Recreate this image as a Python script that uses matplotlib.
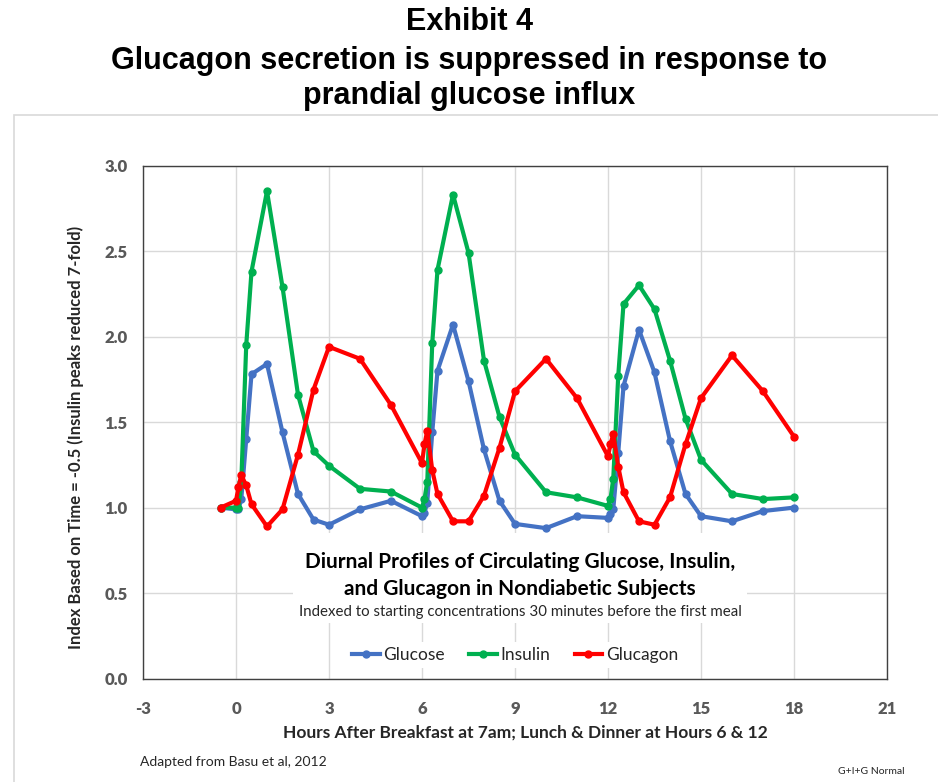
import matplotlib
matplotlib.use("Agg")
import matplotlib.pyplot as plt
from matplotlib import font_manager
from matplotlib.patches import Rectangle

# 数据：时间(小时)与三条指数曲线
hours = [-0.5, 0, 0.08, 0.17, 0.33, 0.5, 1, 1.5, 2, 2.5, 3, 4, 5,
         6, 6.08, 6.17, 6.33, 6.5, 7, 7.5, 8, 8.5, 9, 10, 11,
         12, 12.08, 12.17, 12.33, 12.5, 13, 13.5, 14, 14.5, 15, 16, 17, 18]

glucose = [1.0, 0.99, 0.99, 1.05, 1.40, 1.78, 1.84, 1.44, 1.08, 0.93, 0.90, 0.99, 1.04,
           0.95, 0.97, 1.03, 1.44, 1.80, 2.07, 1.74, 1.34, 1.04, 0.905, 0.88, 0.95,
           0.94, 0.96, 0.99, 1.32, 1.71, 2.04, 1.79, 1.39, 1.08, 0.95, 0.92, 0.98, 1.00]

insulin = [1.0, 1.0, 1.0, 1.15, 1.95, 2.38, 2.85, 2.29, 1.66, 1.33, 1.245, 1.11, 1.094,
           1.0, 1.05, 1.15, 1.96, 2.39, 2.83, 2.49, 1.86, 1.53, 1.31, 1.09, 1.06,
           1.01, 1.05, 1.17, 1.77, 2.19, 2.30, 2.16, 1.86, 1.52, 1.28, 1.08, 1.05, 1.06]

glucagon = [1.0, 1.04, 1.12, 1.19, 1.13, 1.02, 0.89, 0.99, 1.31, 1.69, 1.94, 1.87, 1.60,
            1.26, 1.37, 1.45, 1.22, 1.08, 0.92, 0.92, 1.07, 1.35, 1.68, 1.87, 1.64,
            1.30, 1.37, 1.43, 1.24, 1.09, 0.92, 0.90, 1.06, 1.37, 1.64, 1.89, 1.68, 1.415]

x_ticks = [-3, 0, 3, 6, 9, 12, 15, 18, 21]
y_ticks = [0.0, 0.5, 1.0, 1.5, 2.0, 2.5, 3.0]


def pick_font(names):
    """返回第一个可用字体"""
    for name in names:
        try:
            font_manager.findfont(name, fallback_to_default=False)
            return name
        except Exception:
            continue
    return 'DejaVu Sans'


plt.rcParams['axes.unicode_minus'] = False
title_font = pick_font(['Liberation Sans Narrow', 'Liberation Sans'])
body_font = pick_font(['Lato', 'Open Sans', 'DejaVu Sans'])

W, H = 938, 782
fig = plt.figure(figsize=(W / 100, H / 100), dpi=100)
fig.patch.set_facecolor('white')

# 外框（浅灰）
fig.patches.append(Rectangle((14 / W, -0.1), 1.2, (H - 115) / H + 0.1,
                             transform=fig.transFigure, facecolor='none',
                             edgecolor='#d9d9d9', linewidth=1.2))

# 标题
title_size = 24 if title_font == 'Liberation Sans Narrow' else 22
for text, ypx in [("Exhibit 4", 22),
                  ("Glucagon secretion is suppressed in response to", 61),
                  ("prandial glucose influx", 96)]:
    fig.text(0.5, 1 - ypx / H, text, ha='center', va='center',
             fontsize=title_size, fontweight='bold', family=title_font)

# 绘图区
ax_l, ax_r, ax_t, ax_b = 143, 887, 165.5, 678.7
ax = fig.add_axes([ax_l / W, 1 - ax_b / H, (ax_r - ax_l) / W, (ax_b - ax_t) / H])
ax.set_xlim(-3, 21)
ax.set_ylim(0, 3.0)
ax.set_xticks(x_ticks)
ax.set_yticks(y_ticks)
ax.set_yticklabels([f"{v:.1f}" for v in y_ticks])
ax.grid(True, color='#d9d9d9', linewidth=1.0)
ax.set_axisbelow(True)
for sp in ax.spines.values():
    sp.set_color('#404040')
    sp.set_linewidth(1.0)
ax.tick_params(length=0, labelsize=12, labelcolor='#595959')
ax.tick_params(axis='y', pad=11)
ax.tick_params(axis='x', pad=16)
for lab in ax.get_xticklabels() + ax.get_yticklabels():
    lab.set_fontweight('heavy')
    lab.set_family(body_font)

series = [("Glucose", glucose, '#4472C4'),
          ("Insulin", insulin, '#00B050'),
          ("Glucagon", glucagon, '#FF0000')]
handles = []
for name, vals, color in series:
    h, = ax.plot(hours, vals, color=color, linewidth=3.0, marker='o',
                 markersize=5, label=name, zorder=3)
    handles.append(h)

ax.set_xlabel("Hours After Breakfast at 7am; Lunch & Dinner at Hours 6 & 12",
              fontsize=12.5, fontweight='bold', family=body_font, color='#262626')
ax.xaxis.set_label_coords((525 - ax_l) / (ax_r - ax_l), -(733 - ax_b) / (ax_b - ax_t))
ax.xaxis.label.set_va('center')
ax.set_ylabel("Index Based on Time = -0.5 (Insulin peaks reduced 7-fold)",
              fontsize=12, fontweight='bold', family=body_font, color='#262626')
ax.yaxis.set_label_coords(-(ax_l - 76) / (ax_r - ax_l), (ax_b - 437) / (ax_b - ax_t))
ax.yaxis.label.set_va('center')

# 图内说明文字（白底）
def px2ax(xp, yp):
    return (xp - ax_l) / (ax_r - ax_l), (ax_b - yp) / (ax_b - ax_t)

x0, y0 = px2ax(293, 623)
x1, y1 = px2ax(747, 533)
ax.add_patch(Rectangle((x0, y0), x1 - x0, y1 - y0, transform=ax.transAxes,
                       facecolor='white', edgecolor='none', zorder=2))
cx, _ = px2ax(520, 0)
ax.text(cx, px2ax(0, 562)[1], "Diurnal Profiles of Circulating Glucose, Insulin,",
        transform=ax.transAxes, ha='center', va='center', fontsize=15,
        fontweight='bold', family=body_font, zorder=4)
ax.text(cx, px2ax(0, 589)[1], "and Glucagon in Nondiabetic Subjects",
        transform=ax.transAxes, ha='center', va='center', fontsize=15,
        fontweight='bold', family=body_font, zorder=4)
ax.text(cx, px2ax(0, 612)[1],
        "Indexed to starting concentrations 30 minutes before the first meal",
        transform=ax.transAxes, ha='center', va='center', fontsize=10.8,
        family=body_font, color='#262626', zorder=4)

leg = ax.legend(handles=handles, loc='center', bbox_to_anchor=(px2ax(515, 0)[0], px2ax(0, 655)[1]),
                ncol=3, frameon=True, facecolor='white', edgecolor='none', framealpha=1,
                handlelength=1.6, handletextpad=0.2, columnspacing=1.4,
                borderpad=0.3, prop={'family': body_font, 'size': 12.5})
leg.set_zorder(5)
for t in leg.get_texts():
    t.set_color('#262626')

# 脚注
fig.text(140 / W, 1 - 762 / H, "Adapted from Basu et al, 2012", ha='left', va='center',
         fontsize=10, family=body_font, color='#262626')
fig.text(838 / W, 1 - 771 / H, "G+I+G Normal", ha='left', va='center',
         fontsize=7.5, family=body_font, color='#262626')

fig.savefig("out.png", dpi=100)
plt.close(fig)
